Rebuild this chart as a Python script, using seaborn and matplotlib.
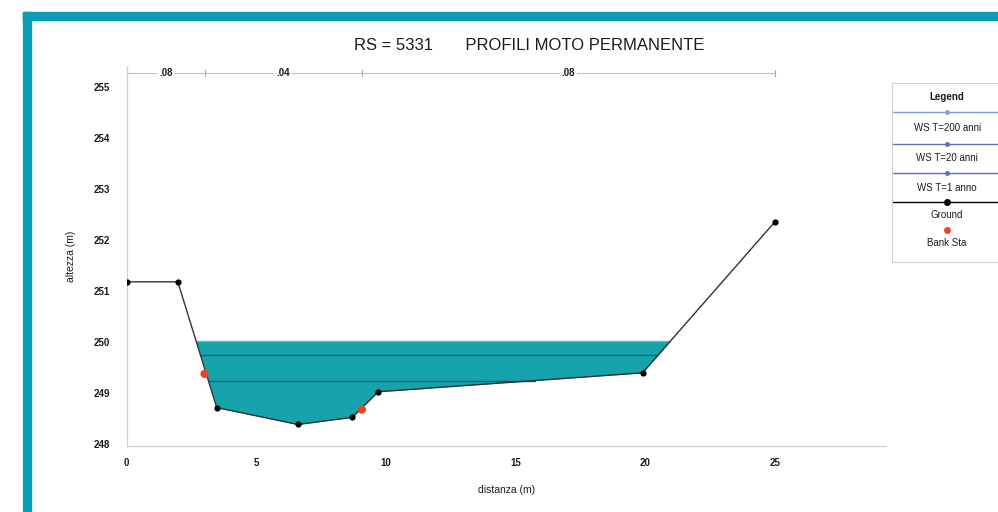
"""
Sezione RS 5331 - profili moto permanente.
"""

import numpy as np
import matplotlib
matplotlib.use("Agg")
import matplotlib.pyplot as plt
import pandas as pd
import seaborn as sns

# ground profile (distanza, altezza)
ground_x = [0.0, 1.97, 3.47, 6.6, 8.7, 9.7, 19.9, 25.0]
ground_y = [251.18, 251.18, 248.72, 248.39, 248.53, 249.03, 249.4, 252.35]

# bank stations
bank_x = [3.0, 9.07]
bank_y = [249.38, 248.68]

# water surfaces
ws_labels = ["WS T=200 anni", "WS T=20 anni", "WS T=1 anno"]
ws_levels = [250.02, 249.75, 249.25]

# manning n values between breaks
n_breaks = [0.0, 3.0, 9.07, 25.0]
n_values = [".08", ".04", ".08"]

TEAL = "#17a3ab"
FRAME = "#0c9cb4"
WS_COL = "#17607e"
TXT = "#1e1a1a"


def crossings(level):
    # left and right x where the ground meets the water level
    xs = []
    for i in range(len(ground_x) - 1):
        y0, y1 = ground_y[i], ground_y[i + 1]
        if (y0 - level) * (y1 - level) < 0:
            t = (level - y0) / (y1 - y0)
            xs.append(ground_x[i] + t * (ground_x[i + 1] - ground_x[i]))
    return xs[0], xs[-1]


sns.set_style("white")
plt.rcParams["font.family"] = ["Liberation Sans", "DejaVu Sans"]

fig = plt.figure(figsize=(9.98, 5.12), dpi=100)
ax = fig.add_axes([0.127, 0.129, 0.761, 0.742])

gx = np.array(ground_x)
gy = np.array(ground_y)
ax.fill_between(gx, gy, ws_levels[0], where=gy < ws_levels[0],
                interpolate=True, color=TEAL, lw=0, zorder=1)

for lev in ws_levels:
    xl, xr = crossings(lev)
    ax.plot([xl, xr], [lev, lev], color=WS_COL if lev != ws_levels[0] else "#4fc0c8",
            lw=1.0, zorder=2)

df = pd.DataFrame({"x": ground_x, "y": ground_y})
sns.lineplot(data=df, x="x", y="y", ax=ax, color="#3a3030", lw=1.0,
             marker="o", markersize=4.5, markeredgewidth=0, markerfacecolor="black",
             sort=False, zorder=3)
sns.scatterplot(x=bank_x, y=bank_y, ax=ax, color="#e8452a", s=36,
                edgecolor="none", zorder=4)

# manning n line
ny = 255.27
ax.plot([n_breaks[0], n_breaks[-1]], [ny, ny], color="#c8bcbc", lw=0.8,
        zorder=2, clip_on=False)
for b in n_breaks:
    ax.plot([b, b], [ny - 0.06, ny + 0.06], color="#b0a4a4", lw=0.8, clip_on=False)
for i, v in enumerate(n_values):
    ax.text((n_breaks[i] + n_breaks[i + 1]) / 2, ny, v, ha="center", va="center",
            fontsize=7, color=TXT, fontweight="bold",
            bbox=dict(fc="white", ec="none", pad=1.5), zorder=5)

ax.set_xlim(0, 29.3)
ax.set_ylim(247.97, 255.4)
ax.set_xticks([0, 5, 10, 15, 20, 25])
ax.set_yticks([248, 249, 250, 251, 252, 253, 254, 255])
ax.tick_params(labelsize=7, colors=TXT, length=0)
ax.tick_params(axis="y", pad=12)
ax.tick_params(axis="x", pad=9)
for lab in ax.get_xticklabels() + ax.get_yticklabels():
    lab.set_fontweight("bold")
for s in ["top", "right"]:
    ax.spines[s].set_visible(False)
for s in ["left", "bottom"]:
    ax.spines[s].set_color("#d8cccc")
    ax.spines[s].set_linewidth(0.9)
ax.set_xlabel("distanza (m)", fontsize=7.5, color=TXT, labelpad=12)
ax.set_ylabel("altezza (m)", fontsize=7.5, color=TXT, labelpad=13)

fig.text(0.53, 0.912, "RS = 5331       PROFILI MOTO PERMANENTE", ha="center",
         va="center", fontsize=12, color=TXT)

# legend box
lg = fig.add_axes([0.894, 0.488, 0.11, 0.35])
lg.set_xlim(0, 1)
lg.set_ylim(0, 1)
lg.set_xticks([])
lg.set_yticks([])
for s in lg.spines.values():
    s.set_color("#d8d0d0")
    s.set_linewidth(0.8)
lg.text(0.5, 0.92, "Legend", ha="center", va="center", fontsize=7,
        fontweight="bold", color=TXT)
rows = ws_labels + ["Ground", "Bank Sta"]
line_cols = ["#8a9ad8", "#5a70c8", "#5a70c8", "black", None]
sample_y = [0.84, 0.66, 0.50, 0.335, 0.18]
text_y = [0.75, 0.58, 0.415, 0.265, 0.105]
for lab, c, sy, ty in zip(rows, line_cols, sample_y, text_y):
    if c is not None:
        lg.plot([0, 1], [sy, sy], color=c, lw=1.0)
        lg.plot([0.5], [sy], marker="o", ms=2.5 if lab != "Ground" else 4,
                color=c if lab != "Ground" else "black")
    else:
        lg.plot([0.5], [sy], marker="o", ms=5, color="#e8452a", mec="none")
    lg.text(0.5, ty, lab, ha="center", va="center", fontsize=7, color=TXT)

# teal frame on left and top
fig.patches.append(plt.Rectangle((0.023, 0), 0.008, 0.977, transform=fig.transFigure,
                                 color=FRAME, zorder=10))
fig.patches.append(plt.Rectangle((0.023, 0.961), 0.977, 0.016, transform=fig.transFigure,
                                 color=FRAME, zorder=10))

fig.savefig("out.png", dpi=100)
